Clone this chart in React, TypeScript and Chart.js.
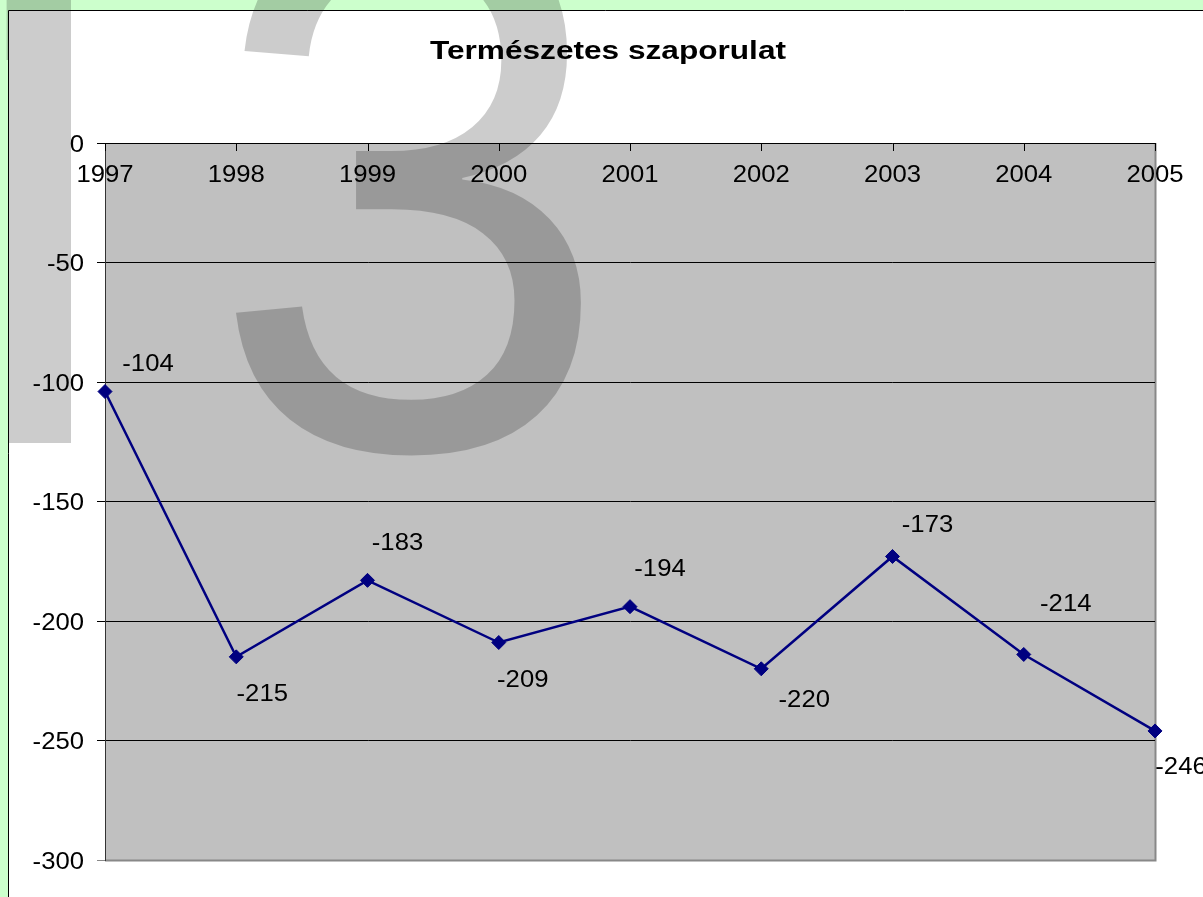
import React, { useEffect, useRef } from "react";
import { Chart, registerables } from "chart.js";

Chart.register(...registerables);

// ---- data ----
const years: string[] = ["1997", "1998", "1999", "2000", "2001", "2002", "2003", "2004", "2005"];
const naturalGrowth: number[] = [-104, -215, -183, -209, -194, -220, -173, -214, -246];
const yMin = -300;
const yMax = 0;
const yStep = 50;
const chartTitle = "Természetes szaporulat";
const watermarkText = "13";

// label placement offsets (px) relative to each point, as in the original
const labelOffsets: [number, number][] = [
  [43, -29], [26, 36], [30, -39], [24, 36], [30, -39], [43, 30], [35, -33], [42, -52], [26, 34],
];

const FONT = '"Liberation Sans", Arial, sans-serif';
const NUM_SIZE = 24;
const NUM_SX = 1.07;

function drawText(
  ctx: CanvasRenderingContext2D,
  text: string,
  x: number,
  cy: number,
  align: CanvasTextAlign,
  size: number,
  sx: number,
  bold = false
) {
  ctx.save();
  ctx.font = `${bold ? "bold " : ""}${size}px ${FONT}`;
  ctx.fillStyle = "#000";
  ctx.textAlign = align;
  ctx.textBaseline = "alphabetic";
  ctx.translate(x, cy + 0.358 * size);
  ctx.scale(sx, 1);
  ctx.fillText(text, 0, 0);
  ctx.restore();
}

const decorPlugin = {
  id: "decor",
  beforeDraw(chart: any) {
    const ctx: CanvasRenderingContext2D = chart.ctx;
    const { width, height, chartArea: a } = chart;
    ctx.save();
    ctx.fillStyle = "#CCFFCC";
    ctx.fillRect(0, 0, width, height);
    ctx.fillStyle = "#FFFFFF";
    ctx.fillRect(8, 10, width - 8, height - 10);
    ctx.strokeStyle = "#000";
    ctx.lineWidth = 1;
    ctx.beginPath();
    ctx.moveTo(8.5, height);
    ctx.lineTo(8.5, 10.5);
    ctx.lineTo(width, 10.5);
    ctx.stroke();
    // plot area
    ctx.fillStyle = "#C0C0C0";
    ctx.fillRect(a.left, a.top, a.right - a.left, a.bottom - a.top);
    ctx.strokeStyle = "#888888";
    ctx.lineWidth = 2;
    ctx.beginPath();
    ctx.moveTo(a.left, a.bottom + 0.5);
    ctx.lineTo(a.right + 0.5, a.bottom + 0.5);
    ctx.lineTo(a.right + 0.5, a.top);
    ctx.stroke();
    ctx.restore();
  },
  afterDatasetsDraw(chart: any) {
    const ctx: CanvasRenderingContext2D = chart.ctx;
    const xs = chart.scales.x;
    const ys = chart.scales.y;
    const a = chart.chartArea;
    // x tick marks (pointing down into the plot from the top axis)
    ctx.save();
    ctx.strokeStyle = "#000";
    ctx.lineWidth = 1;
    years.forEach((_, i) => {
      const px = Math.round(xs.getPixelForValue(i)) + 0.5;
      ctx.beginPath();
      ctx.moveTo(px, a.top);
      ctx.lineTo(px, a.top + 8);
      ctx.stroke();
    });
    ctx.restore();
    // x labels under the top axis
    years.forEach((yr, i) => {
      drawText(ctx, yr, xs.getPixelForValue(i), a.top + 30, "center", NUM_SIZE, NUM_SX);
    });
    // y labels
    for (let v = yMax; v >= yMin; v -= yStep) {
      drawText(ctx, String(v), a.left - 21, ys.getPixelForValue(v), "right", NUM_SIZE, NUM_SX);
    }
    // data labels
    const meta = chart.getDatasetMeta(0);
    meta.data.forEach((pt: any, i: number) => {
      const [dx, dy] = labelOffsets[i];
      drawText(ctx, String(naturalGrowth[i]), pt.x + dx, pt.y + dy, "center", NUM_SIZE, NUM_SX);
    });
    // title
    ctx.save();
    ctx.font = `bold 25px ${FONT}`;
    const w = ctx.measureText(chartTitle).width;
    ctx.restore();
    const sx = 356 / w;
    drawText(ctx, chartTitle, 608, 59 - 0.358 * 25, "center", 25, sx, true);
  },
  afterDraw(chart: any) {
    const ctx: CanvasRenderingContext2D = chart.ctx;
    const [one, three] = watermarkText.split("");
    ctx.save();
    ctx.font = `750px ${FONT}`;
    ctx.fillStyle = "rgba(0,0,0,0.2)";
    ctx.textAlign = "left";
    ctx.textBaseline = "alphabetic";
    // first digit: only its stem is visible at the page edge
    ctx.save();
    ctx.beginPath();
    ctx.rect(8, 0, 63, 443);
    ctx.rect(0, 0, 8, 60);
    ctx.clip();
    ctx.fillText(one, -182, 443);
    ctx.restore();
    // second digit
    ctx.save();
    ctx.translate(231, 448);
    ctx.scale(0.97, 1.02);
    const m = ctx.measureText(three);
    ctx.fillText(three, m.actualBoundingBoxLeft, 0);
    ctx.restore();
    ctx.restore();
  },
};

export default function App() {
  const ref = useRef<HTMLCanvasElement | null>(null);
  useEffect(() => {
    if (!ref.current) return;
    const chart = new Chart(ref.current, {
      type: "line",
      data: {
        labels: years,
        datasets: [
          {
            data: naturalGrowth,
            borderColor: "#000080",
            backgroundColor: "#000080",
            borderWidth: 2.5,
            pointStyle: "rectRot",
            pointRadius: 7,
            pointBorderWidth: 1,
            pointBackgroundColor: "#000080",
            pointBorderColor: "#000080",
            tension: 0,
            clip: false as any,
          },
        ],
      },
      options: {
        responsive: false,
        animation: false,
        devicePixelRatio: 1,
        layout: { padding: { left: 105, top: 143, right: 48, bottom: 37 } },
        plugins: {
          legend: { display: false },
          title: { display: false },
          tooltip: { enabled: false },
        },
        scales: {
          x: {
            type: "category",
            display: false,
            offset: false,
          },
          y: {
            min: yMin,
            max: yMax,
            ticks: { display: false, stepSize: yStep },
            grid: {
              color: (c: any) => (c.tick && c.tick.value === yMin ? "#888888" : "#000000"),
              lineWidth: 1,
              drawTicks: true,
              tickLength: 8,
            },
            border: { display: true, color: "#333333", width: 1 },
            afterFit: (s: any) => {
              s.width = 0;
            },
          },
        },
      },
      plugins: [decorPlugin],
    });
    return () => chart.destroy();
  }, []);
  return (
    <div style={{ position: "absolute", left: 0, top: 0, width: 1203, height: 897 }}>
      <canvas ref={ref} width={1203} height={897} style={{ display: "block", width: 1203, height: 897 }} />
    </div>
  );
}
